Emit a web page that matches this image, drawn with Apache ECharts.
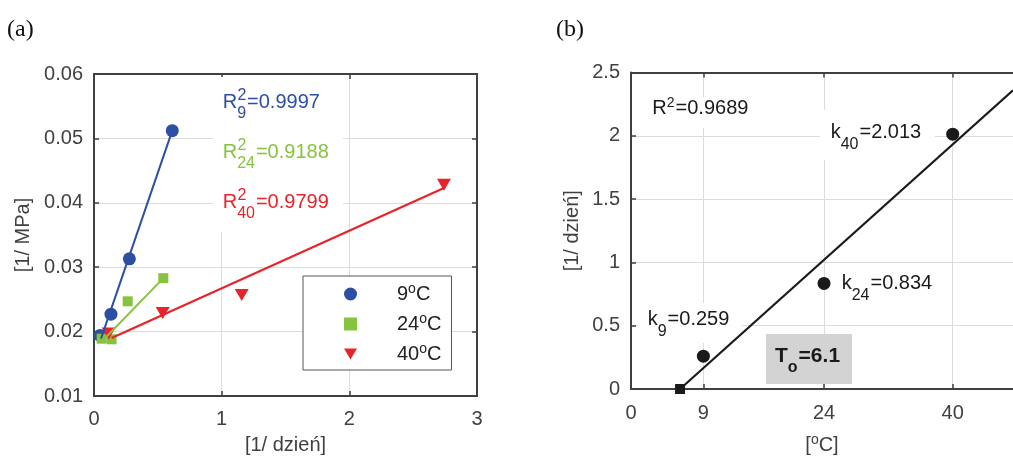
<!DOCTYPE html>
<html><head><meta charset="utf-8">
<script src="https://cdn.jsdelivr.net/npm/echarts@6/dist/echarts.min.js"></script>
<style>html,body{margin:0;padding:0;background:#fff}#c{width:1013px;height:457px}</style>
</head><body><div id="c"></div>
<script>
// ---------- Panel (a) data ----------
const seriesNames = ['9°C', '24°C', '40°C'];
const s9x  = [0.047, 0.133, 0.277, 0.613];
const s9y  = [0.0194, 0.0227, 0.0313, 0.0512];
const s24x = [0.060, 0.138, 0.264, 0.543];
const s24y = [0.0189, 0.0188, 0.0247, 0.0283];
const s40x = [0.115, 0.538, 1.157, 2.741];
const s40y = [0.0197, 0.0229, 0.0257, 0.0428];
const fit9x  = [0.055, 0.613];  const fit9y  = [0.0189, 0.0512];
const fit24x = [0.073, 0.543];  const fit24y = [0.0187, 0.0283];
const fit40x = [0.138, 2.741];  const fit40y = [0.0190, 0.0423];
const r2Subs = ['9', '24', '40'];
const r2Vals = ['0.9997', '0.9188', '0.9799'];
// ---------- Panel (b) data ----------
const tempX = [9, 24, 40];
const kVals = [0.259, 0.834, 2.013];
const kSubs = ['9', '24', '40'];
const T0 = 6.1;
const fitBx = [6.1, 47.5];  const fitBy = [0, 2.36];
const xTicksB = [0, 9, 24, 40];
const r2B = '0.9689';

const FONT = '"Liberation Sans", Arial, sans-serif';
const AX = '#404040';
const GRID = '#dcdcdc';
const C9 = '#2d4fa3', C24 = '#86c440', C40 = '#e8232a', CK = '#1a1a1a';
const pairs = (xs, ys) => xs.map((x, i) => [x, ys[i]]);

function axis(o) {
  const a = {
    type: 'value',
    axisLine: {show: true, onZero: false, lineStyle: {color: AX, width: 2}},
    axisTick: {show: true, inside: true, length: 5, lineStyle: {color: AX, width: 1.5}},
    axisLabel: {show: true, fontSize: 20, color: AX, fontFamily: FONT, margin: 11},
    splitLine: {show: true, lineStyle: {color: GRID, width: 1}},
    nameTextStyle: {fontSize: 20, color: AX, fontFamily: FONT}
  };
  for (const k in o) {
    if (a[k] && typeof a[k] === 'object' && typeof o[k] === 'object' && !Array.isArray(o[k])) a[k] = Object.assign({}, a[k], o[k]);
    else a[k] = o[k];
  }
  return a;
}

const chart = echarts.init(document.getElementById('c'));
const triPath = 'path://M0,0 L20,0 L10,17 Z';

const option = {
  animation: false,
  grid: [
    {left: 94, top: 74, width: 383, height: 322, outerBoundsMode: 'none', containLabel: false},
    {left: 631, top: 72.5, width: 382, height: 316.5, outerBoundsMode: 'none', containLabel: false}
  ],
  xAxis: [
    axis({gridIndex: 0, min: 0, max: 3, interval: 1, position: 'bottom',
      axisLabel: {margin: 13.5},
      name: '[1/ dzień]', nameLocation: 'middle', nameGap: 39}),
    axis({gridIndex: 1, min: 0, max: 47.5, position: 'bottom',
      axisLabel: {customValues: xTicksB, margin: 14.5}, axisTick: {customValues: xTicksB.filter(v => v > 0)},
      splitLine: {show: false},
      name: '[{sup|o}C]', nameLocation: 'middle', nameGap: 44,
      nameTextStyle: {fontSize: 20, color: AX, fontFamily: FONT,
        rich: {sup: {fontSize: 14, color: AX, fontFamily: FONT, padding: [0, 0, 10, 0]}}}}),
    axis({gridIndex: 0, min: 0, max: 3, interval: 1, position: 'top',
      axisLabel: {show: false}, splitLine: {show: false}}),
    axis({gridIndex: 1, min: 0, max: 47.5, position: 'top',
      axisLabel: {show: false}, axisTick: {customValues: xTicksB.filter(v => v > 0)},
      splitLine: {show: false}})
  ],
  yAxis: [
    axis({gridIndex: 0, min: 0.01, max: 0.06, interval: 0.01, position: 'left',
      axisLabel: {formatter: v => v.toFixed(2)},
      name: '[1/ MPa]', nameLocation: 'middle', nameGap: 61}),
    axis({gridIndex: 1, min: 0, max: 2.5, interval: 0.5, position: 'left',
      name: '[1/ dzień]', nameLocation: 'middle', nameGap: 49}),
    axis({gridIndex: 0, min: 0.01, max: 0.06, interval: 0.01, position: 'right',
      axisLabel: {show: false}, splitLine: {show: false}})
  ],
  legend: {
    orient: 'vertical', left: 303, top: 276, align: 'left',
    data: seriesNames,
    padding: [6, 10, 6, 41], itemGap: 8, itemWidth: 13, itemHeight: 13,
    backgroundColor: '#fff', borderColor: '#555', borderWidth: 1,
    formatter: n => n.replace('°', '{sup|o}'),
    textStyle: {fontSize: 20, color: '#222', fontFamily: FONT, padding: [0, 0, 0, 35],
      rich: {sup: {fontSize: 14, color: '#222', fontFamily: FONT, padding: [0, 0, 10, 0]}}},
    selectedMode: false
  },
  series: [
    {type: 'line', xAxisIndex: 1, yAxisIndex: 1, data: [], z: 0, silent: true,
      markLine: {z: 0, silent: true, symbol: ['none', 'none'], label: {show: false},
        lineStyle: {color: GRID, width: 1, type: 'solid'}, emphasis: {disabled: true},
        data: xTicksB.filter(v => v > 0).map(v => ({xAxis: v}))}},
    {type: 'line', xAxisIndex: 0, yAxisIndex: 0, data: pairs(fit9x, fit9y), showSymbol: false,
      lineStyle: {color: C9, width: 2}, itemStyle: {color: C9}, silent: true},
    {type: 'line', xAxisIndex: 0, yAxisIndex: 0, data: pairs(fit24x, fit24y), showSymbol: false,
      lineStyle: {color: C24, width: 2}, itemStyle: {color: C24}, silent: true},
    {type: 'line', xAxisIndex: 0, yAxisIndex: 0, data: pairs(fit40x, fit40y), showSymbol: false,
      lineStyle: {color: C40, width: 2.2}, itemStyle: {color: C40}, silent: true},
    {name: seriesNames[0], type: 'scatter', xAxisIndex: 0, yAxisIndex: 0, data: pairs(s9x, s9y),
      symbol: 'circle', symbolSize: 13, itemStyle: {color: C9, opacity: 1}, clip: false},
    {name: seriesNames[1], type: 'scatter', xAxisIndex: 0, yAxisIndex: 0, data: pairs(s24x, s24y),
      symbol: 'rect', symbolSize: 10, itemStyle: {color: C24, opacity: 1}, clip: false},
    {name: seriesNames[2], type: 'scatter', xAxisIndex: 0, yAxisIndex: 0, data: pairs(s40x, s40y),
      symbol: triPath, symbolSize: [14, 12], itemStyle: {color: C40, opacity: 1}, clip: false},
    {type: 'line', xAxisIndex: 1, yAxisIndex: 1, data: pairs(fitBx, fitBy), showSymbol: false,
      lineStyle: {color: CK, width: 2.2}, itemStyle: {color: CK}, silent: true},
    {type: 'scatter', xAxisIndex: 1, yAxisIndex: 1, data: pairs(tempX, kVals),
      symbol: 'circle', symbolSize: 13, itemStyle: {color: CK, opacity: 1}, clip: false},
    {type: 'scatter', xAxisIndex: 1, yAxisIndex: 1, data: [[T0, 0]],
      symbol: 'rect', symbolSize: 10, itemStyle: {color: CK, opacity: 1}, clip: false, z: 5}
  ],
  graphic: []
};

// annotation boxes & texts
const g = option.graphic;
const rect = (x, y, w, h, fill) => g.push({type: 'rect', silent: true, z: 1, shape: {x, y, width: w, height: h}, style: {fill}});
rect(213, 77, 130, 155, '#fff');
rect(643, 97, 119, 31, '#fff');
rect(820, 110, 115, 50, '#fff');
rect(638, 303, 104, 40, '#fff');
rect(766, 334, 86, 50, '#d3d3d3');

const subStyle = (pad, extra) => Object.assign({fontSize: 16, fontFamily: FONT, verticalAlign: 'middle', padding: [pad, 1, 0, 0]}, extra || {});
const txt = (x, y, text, fill, rich, extra) => g.push({type: 'text', silent: true, z: 10, x, y,
  style: Object.assign({text, fill, fontSize: 20, fontFamily: FONT, verticalAlign: 'middle', align: 'left', rich}, extra || {})});

const leftColors = [C9, C24, C40];
for (let i = 0; i < 3; i++) {
  const y = 102.5 + 50 * i;
  txt(222.7, y, 'R{sub|' + r2Subs[i] + '}=' + r2Vals[i], leftColors[i], {sub: subStyle(22)});
  txt(237.6, y - 6.5, '2', leftColors[i], null, {fontSize: 16});
}
txt(652.3, 108.2, 'R{sup|2}=' + r2B, CK, {sup: {fontSize: 14, fontFamily: FONT, verticalAlign: 'middle', padding: [0, 1, 10, 0]}});
txt(830.7, 132.7, 'k{sub|' + kSubs[2] + '}=' + kVals[2].toFixed(3), CK, {sub: subStyle(23)});
txt(841.7, 283.5, 'k{sub|' + kSubs[1] + '}=' + kVals[1].toFixed(3), CK, {sub: subStyle(25)});
txt(647.7, 319.7, 'k{sub|' + kSubs[0] + '}=' + kVals[0].toFixed(3), CK, {sub: subStyle(23)});
txt(775, 356, 'T{sub|o}=' + T0.toFixed(1), CK, {sub: subStyle(24, {fontWeight: 'bold'})}, {fontWeight: 'bold', fontSize: 21});
g.push({type: 'text', silent: true, z: 10, x: 7, y: 30, style: {text: '(a)', fill: '#111', fontSize: 24, fontFamily: '"Liberation Serif", "Times New Roman", serif', verticalAlign: 'middle'}});
g.push({type: 'text', silent: true, z: 10, x: 556, y: 30, style: {text: '(b)', fill: '#111', fontSize: 24, fontFamily: '"Liberation Serif", "Times New Roman", serif', verticalAlign: 'middle'}});

chart.setOption(option);
</script>
</body></html>
